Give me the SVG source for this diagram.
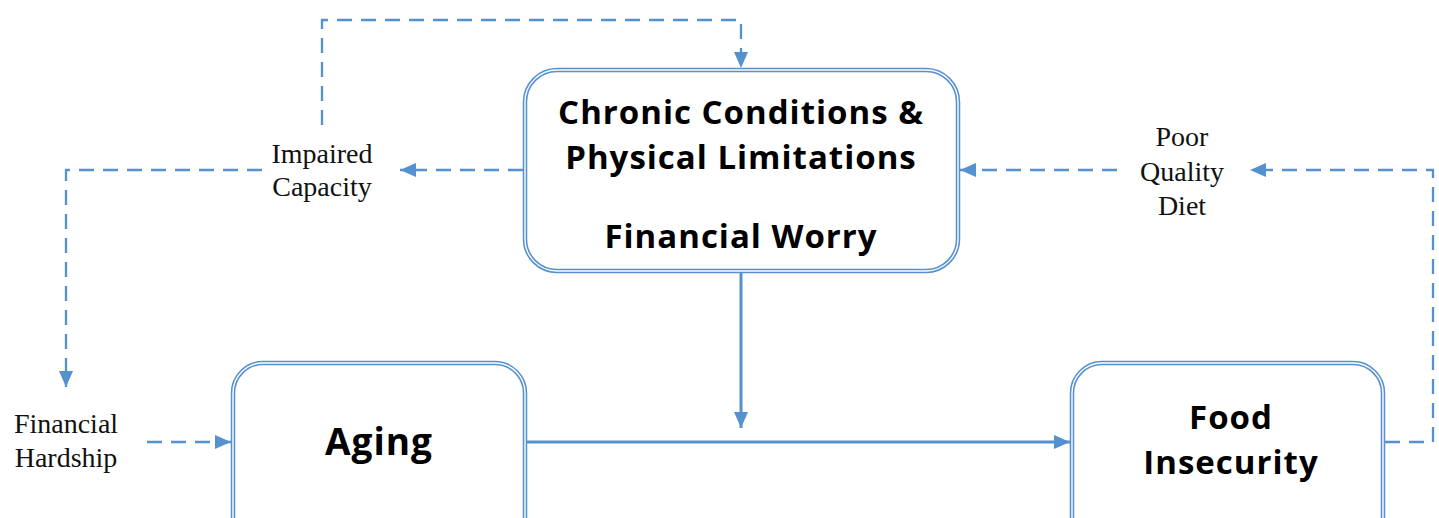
<svg xmlns="http://www.w3.org/2000/svg" width="1439" height="518" viewBox="0 0 1439 518">
<style>
.box-outer{fill:#ffffff;stroke:#5591CF;stroke-width:4.5}
.box-inner{fill:none;stroke:#ffffff;stroke-width:1.4}
.bt{font-family:"Open Sans","Noto Sans",sans-serif;font-weight:bold;fill:#000;text-anchor:middle;letter-spacing:1px}
.lbl{font-family:"Liberation Serif","Times New Roman",serif;font-size:28px;fill:#111;text-anchor:middle}
.solid{fill:none;stroke:#5591CF;stroke-width:3}
.dash{fill:none;stroke:#5591CF;stroke-width:2.3;stroke-dasharray:15 9}
</style>
<defs>
<marker id="ah" markerUnits="userSpaceOnUse" markerWidth="16" markerHeight="14" refX="16" refY="7" orient="auto">
<path d="M0,0 L16,7 L0,14 z" fill="#5591CF"/>
</marker>
</defs>
<g id="connectors">
<path class="solid" d="M741,273 V428" marker-end="url(#ah)"/>
<path class="solid" d="M527,442 H1070" marker-end="url(#ah)"/>
<path class="dash" d="M523,170 H400" marker-end="url(#ah)"/>
<path class="dash" d="M322,125 V20 H741 V68" marker-end="url(#ah)"/>
<path class="dash" d="M262,170 H66 V387" marker-end="url(#ah)"/>
<path class="dash" d="M147,442 H231" marker-end="url(#ah)"/>
<path class="dash" d="M1117,170 H960" marker-end="url(#ah)"/>
<path class="dash" d="M1385,442 H1433 V170 H1250" marker-end="url(#ah)"/>
</g>
<g id="node-chronic">
<rect class="box-outer" x="525" y="70" width="433" height="201" rx="32"/>
<rect class="box-inner" x="525" y="70" width="433" height="201" rx="32"/>
<text class="bt" font-size="33" x="741" y="124">Chronic Conditions &amp;</text>
<text class="bt" font-size="33" x="741" y="169">Physical Limitations</text>
<text class="bt" font-size="33" x="741" y="248">Financial Worry</text>
</g>
<g id="node-aging">
<rect class="box-outer" x="233" y="363" width="292" height="185" rx="30"/>
<rect class="box-inner" x="233" y="363" width="292" height="185" rx="30"/>
<text class="bt" font-size="37" x="379" y="455">Aging</text>
</g>
<g id="node-food">
<rect class="box-outer" x="1072" y="363" width="311" height="185" rx="30"/>
<rect class="box-inner" x="1072" y="363" width="311" height="185" rx="30"/>
<text class="bt" font-size="33" x="1231" y="429">Food</text>
<text class="bt" font-size="33" x="1231" y="474">Insecurity</text>
</g>
<g id="label-impaired">
<text class="lbl" x="322" y="163">Impaired</text>
<text class="lbl" x="322" y="196">Capacity</text>
</g>
<g id="label-hardship">
<text class="lbl" x="66" y="433">Financial</text>
<text class="lbl" x="66" y="467">Hardship</text>
</g>
<g id="label-diet">
<text class="lbl" x="1182" y="146">Poor</text>
<text class="lbl" x="1182" y="181">Quality</text>
<text class="lbl" x="1182" y="215">Diet</text>
</g>
</svg>
